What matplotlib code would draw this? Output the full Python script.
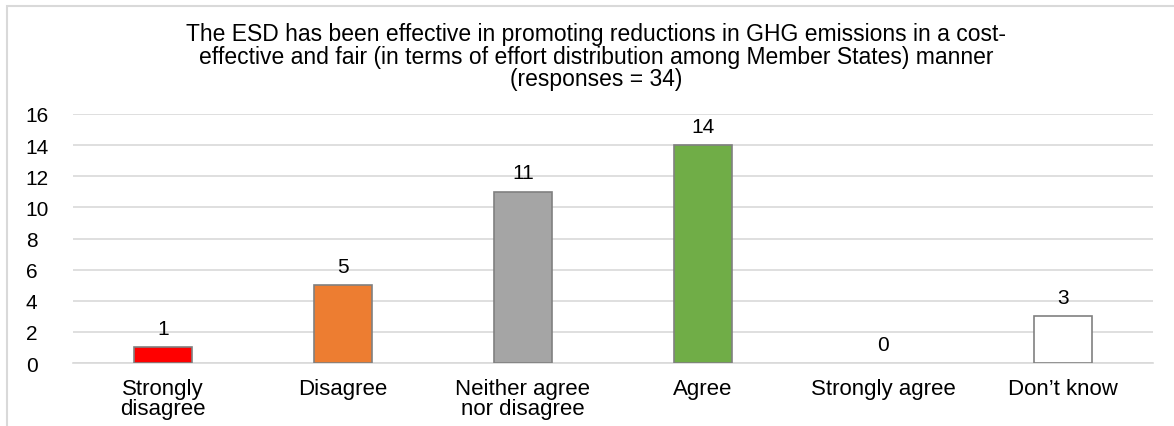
import numpy as np
import matplotlib
matplotlib.use("Agg")
import matplotlib.pyplot as plt
from matplotlib.patches import Rectangle

categories = ["Strongly\ndisagree", "Disagree", "Neither agree\nnor disagree",
              "Agree", "Strongly agree", "Don\u2019t know"]
responses = [1, 5, 11, 14, 0, 3]
bar_colors = ["#FF0000", "#ED7D31", "#A5A5A5", "#70AD47", "#FFFFFF", "#FFFFFF"]
title = ("The ESD has been effective in promoting reductions in GHG emissions in a cost-\n"
         "effective and fair (in terms of effort distribution among Member States) manner\n"
         "(responses = 34)")

plt.rcParams['font.family'] = ['Liberation Sans', 'DejaVu Sans']

fig = plt.figure(figsize=(11.74, 4.27), dpi=100)
ax = fig.add_axes([0.0622, 0.1475, 0.9198, 0.5832])

x = np.arange(len(categories))
edge_w = [1.2 if v > 0 else 0 for v in responses]
ax.bar(x, responses, width=0.32, color=bar_colors, edgecolor="#808080", linewidth=edge_w, zorder=3)
for xi, v in zip(x, responses):
    ax.text(xi, v + 0.6, str(v), ha="center", va="bottom", fontsize=15, color="#000000")

ax.set_xlim(-0.5, len(categories) - 0.5)
ax.set_ylim(0, 16)
ax.set_yticks(np.arange(0, 17, 2))
ax.set_xticks(x)
ax.set_xticklabels(categories, fontsize=16, linespacing=0.95)
ax.tick_params(axis="y", labelsize=15, length=0, pad=34)
ax.tick_params(axis="x", length=0, pad=11)
for lab in ax.get_yticklabels():
    lab.set_horizontalalignment("left")
ax.grid(axis="y", color="#D9D9D9", linewidth=1.2, zorder=0)
for s in ["top", "right", "left"]:
    ax.spines[s].set_visible(False)
ax.spines["bottom"].set_color("#D9D9D9")
ax.spines["bottom"].set_linewidth(1.2)

fig.text(0.508, 0.945, title, ha="center", va="top", fontsize=16.5, linespacing=0.95)

# outer chart border
fig.patches.append(Rectangle((7 / 1174, -0.1), 1.2, 1 - 7 / 427 + 0.1, transform=fig.transFigure,
                             fill=False, edgecolor="#D9D9D9", linewidth=1.5))

fig.savefig("out.png", dpi=100)
